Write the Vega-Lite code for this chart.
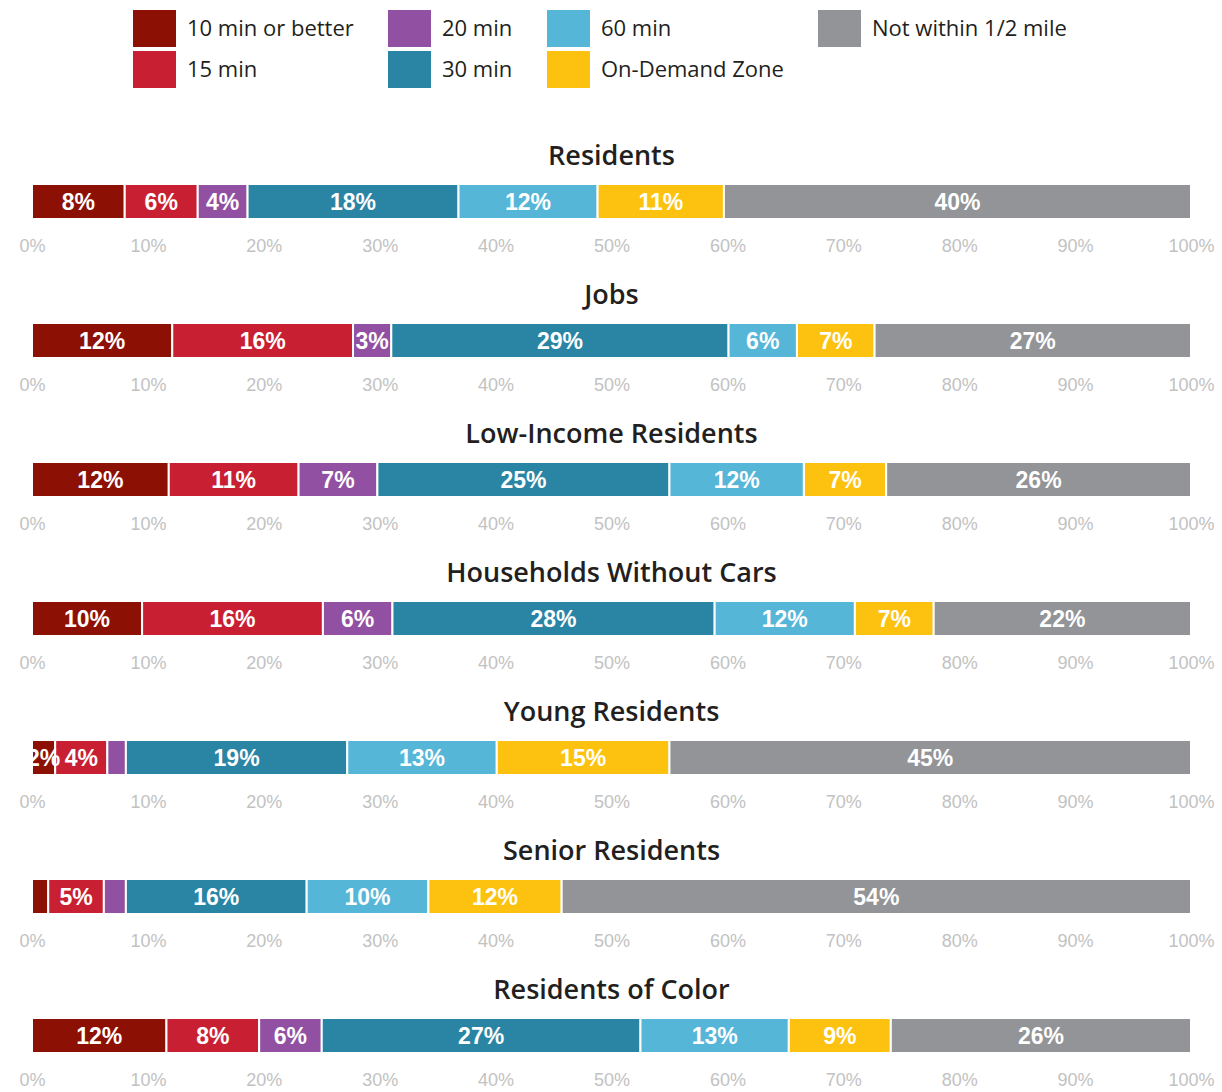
{
  "$schema": "https://vega.github.io/schema/vega-lite/v6.json",
  "background": "white",
  "padding": {"left": 18, "top": 7, "right": 5, "bottom": 5},
  "data": {"values": [
    {"group": "Residents", "k": 1, "cat": "10 min or better", "value": 8.0, "label": "8%"},
    {"group": "Residents", "k": 2, "cat": "15 min", "value": 6.3, "label": "6%"},
    {"group": "Residents", "k": 3, "cat": "20 min", "value": 4.3, "label": "4%"},
    {"group": "Residents", "k": 4, "cat": "30 min", "value": 18.2, "label": "18%"},
    {"group": "Residents", "k": 5, "cat": "60 min", "value": 12.0, "label": "12%"},
    {"group": "Residents", "k": 6, "cat": "On-Demand Zone", "value": 10.9, "label": "11%"},
    {"group": "Residents", "k": 7, "cat": "Not within 1/2 mile", "value": 40.3, "label": "40%"},
    {"group": "Jobs", "k": 1, "cat": "10 min or better", "value": 12.1, "label": "12%"},
    {"group": "Jobs", "k": 2, "cat": "15 min", "value": 15.6, "label": "16%"},
    {"group": "Jobs", "k": 3, "cat": "20 min", "value": 3.3, "label": "3%"},
    {"group": "Jobs", "k": 4, "cat": "30 min", "value": 29.1, "label": "29%"},
    {"group": "Jobs", "k": 5, "cat": "60 min", "value": 5.9, "label": "6%"},
    {"group": "Jobs", "k": 6, "cat": "On-Demand Zone", "value": 6.7, "label": "7%"},
    {"group": "Jobs", "k": 7, "cat": "Not within 1/2 mile", "value": 27.3, "label": "27%"},
    {"group": "Low-Income Residents", "k": 1, "cat": "10 min or better", "value": 11.8, "label": "12%"},
    {"group": "Low-Income Residents", "k": 2, "cat": "15 min", "value": 11.2, "label": "11%"},
    {"group": "Low-Income Residents", "k": 3, "cat": "20 min", "value": 6.8, "label": "7%"},
    {"group": "Low-Income Residents", "k": 4, "cat": "30 min", "value": 25.2, "label": "25%"},
    {"group": "Low-Income Residents", "k": 5, "cat": "60 min", "value": 11.6, "label": "12%"},
    {"group": "Low-Income Residents", "k": 6, "cat": "On-Demand Zone", "value": 7.1, "label": "7%"},
    {"group": "Low-Income Residents", "k": 7, "cat": "Not within 1/2 mile", "value": 26.3, "label": "26%"},
    {"group": "Households Without Cars", "k": 1, "cat": "10 min or better", "value": 9.5, "label": "10%"},
    {"group": "Households Without Cars", "k": 2, "cat": "15 min", "value": 15.6, "label": "16%"},
    {"group": "Households Without Cars", "k": 3, "cat": "20 min", "value": 6.0, "label": "6%"},
    {"group": "Households Without Cars", "k": 4, "cat": "30 min", "value": 27.8, "label": "28%"},
    {"group": "Households Without Cars", "k": 5, "cat": "60 min", "value": 12.1, "label": "12%"},
    {"group": "Households Without Cars", "k": 6, "cat": "On-Demand Zone", "value": 6.8, "label": "7%"},
    {"group": "Households Without Cars", "k": 7, "cat": "Not within 1/2 mile", "value": 22.2, "label": "22%"},
    {"group": "Young Residents", "k": 1, "cat": "10 min or better", "value": 2.0, "label": "2%"},
    {"group": "Young Residents", "k": 2, "cat": "15 min", "value": 4.5, "label": "4%"},
    {"group": "Young Residents", "k": 3, "cat": "20 min", "value": 1.6, "label": ""},
    {"group": "Young Residents", "k": 4, "cat": "30 min", "value": 19.1, "label": "19%"},
    {"group": "Young Residents", "k": 5, "cat": "60 min", "value": 12.9, "label": "13%"},
    {"group": "Young Residents", "k": 6, "cat": "On-Demand Zone", "value": 14.9, "label": "15%"},
    {"group": "Young Residents", "k": 7, "cat": "Not within 1/2 mile", "value": 45.0, "label": "45%"},
    {"group": "Senior Residents", "k": 1, "cat": "10 min or better", "value": 1.4, "label": ""},
    {"group": "Senior Residents", "k": 2, "cat": "15 min", "value": 4.8, "label": "5%"},
    {"group": "Senior Residents", "k": 3, "cat": "20 min", "value": 1.9, "label": ""},
    {"group": "Senior Residents", "k": 4, "cat": "30 min", "value": 15.6, "label": "16%"},
    {"group": "Senior Residents", "k": 5, "cat": "60 min", "value": 10.5, "label": "10%"},
    {"group": "Senior Residents", "k": 6, "cat": "On-Demand Zone", "value": 11.5, "label": "12%"},
    {"group": "Senior Residents", "k": 7, "cat": "Not within 1/2 mile", "value": 54.3, "label": "54%"},
    {"group": "Residents of Color", "k": 1, "cat": "10 min or better", "value": 11.6, "label": "12%"},
    {"group": "Residents of Color", "k": 2, "cat": "15 min", "value": 8.0, "label": "8%"},
    {"group": "Residents of Color", "k": 3, "cat": "20 min", "value": 5.4, "label": "6%"},
    {"group": "Residents of Color", "k": 4, "cat": "30 min", "value": 27.5, "label": "27%"},
    {"group": "Residents of Color", "k": 5, "cat": "60 min", "value": 12.8, "label": "13%"},
    {"group": "Residents of Color", "k": 6, "cat": "On-Demand Zone", "value": 8.8, "label": "9%"},
    {"group": "Residents of Color", "k": 7, "cat": "Not within 1/2 mile", "value": 25.9, "label": "26%"}
  ]},
  "transform": [
    {"stack": "value", "groupby": ["group"], "sort": [{"field": "k", "order": "ascending"}], "as": ["v0", "v1"]}
  ],
  "facet": {
    "field": "group", "type": "nominal",
    "sort": ["Residents", "Jobs", "Low-Income Residents", "Households Without Cars", "Young Residents", "Senior Residents", "Residents of Color"],
    "header": {"title": null, "labelFont": "Open Sans", "labelFontSize": 27, "labelFontWeight": 600, "labelColor": "#231f20", "labelPadding": 12}
  },
  "columns": 1,
  "spacing": 27,
  "resolve": {"axis": {"x": "independent"}},
  "spec": {
    "width": 1159,
    "height": 35,
    "layer": [
      {
        "mark": {"type": "bar", "stroke": "white", "strokeWidth": 2, "height": 35},
        "encoding": {
          "x": {"field": "v0", "type": "quantitative", "scale": {"domain": [0, 100], "nice": false},
            "axis": {"title": null, "values": [0, 10, 20, 30, 40, 50, 60, 70, 80, 90, 100], "domain": false, "ticks": false, "grid": false,
              "labelExpr": "datum.value + '%'", "labelColor": "#c2c2c2", "labelFont": "Liberation Sans", "labelFontSize": 18,
              "labelPadding": 18, "labelFlush": false, "labelOverlap": false}},
          "x2": {"field": "v1"},
          "color": {"field": "cat", "type": "nominal",
            "scale": {"domain": ["10 min or better", "15 min", "20 min", "30 min", "60 min", "On-Demand Zone", "Not within 1/2 mile"],
              "range": ["#8c1004", "#c91f32", "#9150a1", "#2a85a5", "#56b6d7", "#fdc20f", "#929497"]},
            "legend": {"title": null, "orient": "none", "legendX": 101, "legendY": -177, "direction": "horizontal", "columns": 4,
              "values": ["10 min or better", "20 min", "60 min", "Not within 1/2 mile", "15 min", "30 min", "On-Demand Zone"],
              "symbolType": "M-1,-0.86H1V0.86H-1Z", "symbolSize": 1849, "symbolStrokeWidth": 0, "symbolOpacity": 1,
              "labelFont": "Open Sans", "labelFontSize": 22, "labelColor": "#231f20", "labelOffset": 11,
              "columnPadding": 34, "rowPadding": 1, "labelLimit": 400, "padding": 0}}
        }
      },
      {
        "transform": [
          {"fold": ["v0", "v1"], "as": ["edge", "pos"]},
          {"aggregate": [{"op": "mean", "field": "pos", "as": "mid"}], "groupby": ["group", "cat", "label"]}
        ],
        "mark": {"type": "text", "color": "white", "font": "Liberation Sans", "fontWeight": "bold", "fontSize": 23, "align": "center", "baseline": "middle", "dy": 1},
        "encoding": {
          "x": {"field": "mid", "type": "quantitative"},
          "text": {"field": "label"}
        }
      }
    ]
  },
  "config": {"view": {"stroke": null}}
}
